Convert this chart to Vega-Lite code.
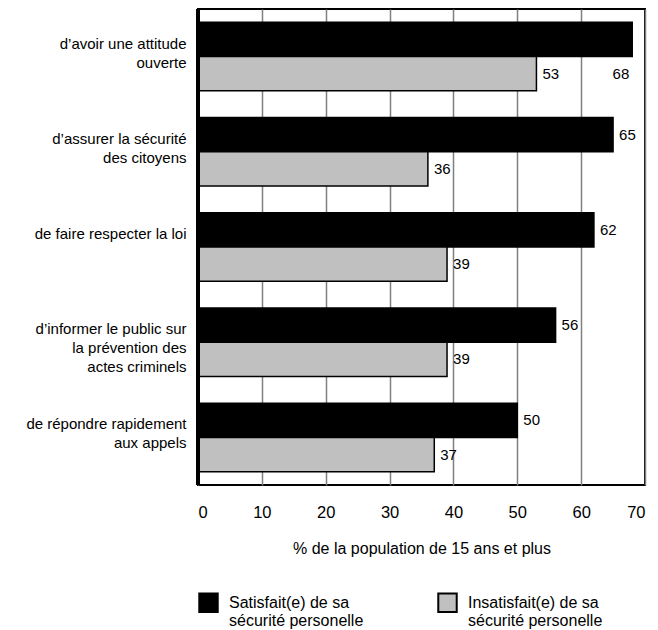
{
  "$schema": "https://vega.github.io/schema/vega-lite/v6.json",
  "width": 447,
  "height": 476,
  "padding": {"left": 5, "top": 7, "right": 5, "bottom": 5},
  "background": "white",
  "config": {
    "font": "Liberation Sans",
    "view": {"stroke": "black", "strokeWidth": 2},
    "axis": {"labelFont": "Liberation Sans", "titleFont": "Liberation Sans", "labelColor": "black", "titleColor": "black"},
    "legend": {"labelFont": "Liberation Sans"}
  },
  "data": {
    "values": [
      {"cat": "d’avoir une attitude|ouverte", "serie": "Satisfait(e) de sa|sécurité personelle", "value": 68},
      {"cat": "d’avoir une attitude|ouverte", "serie": "Insatisfait(e) de sa|sécurité personelle", "value": 53},
      {"cat": "d’assurer la sécurité|des citoyens", "serie": "Satisfait(e) de sa|sécurité personelle", "value": 65},
      {"cat": "d’assurer la sécurité|des citoyens", "serie": "Insatisfait(e) de sa|sécurité personelle", "value": 36},
      {"cat": "de faire respecter la loi", "serie": "Satisfait(e) de sa|sécurité personelle", "value": 62},
      {"cat": "de faire respecter la loi", "serie": "Insatisfait(e) de sa|sécurité personelle", "value": 39},
      {"cat": "d’informer le public sur|la prévention des|actes criminels", "serie": "Satisfait(e) de sa|sécurité personelle", "value": 56},
      {"cat": "d’informer le public sur|la prévention des|actes criminels", "serie": "Insatisfait(e) de sa|sécurité personelle", "value": 39},
      {"cat": "de répondre rapidement|aux appels", "serie": "Satisfait(e) de sa|sécurité personelle", "value": 50},
      {"cat": "de répondre rapidement|aux appels", "serie": "Insatisfait(e) de sa|sécurité personelle", "value": 37}
    ]
  },
  "encoding": {
    "y": {
      "field": "cat", "type": "nominal", "sort": null,
      "scale": {"paddingInner": 0.28, "paddingOuter": 0.14},
      "axis": {
        "title": null, "ticks": false, "domain": false,
        "labelExpr": "split(datum.label, '|')",
        "labelFontSize": 15, "labelPadding": 12, "labelOffset": -13,
        "labelLineHeight": 19, "minExtent": 193, "labelLimit": 200
      }
    },
    "yOffset": {
      "field": "serie", "type": "nominal",
      "sort": ["Satisfait(e) de sa|sécurité personelle", "Insatisfait(e) de sa|sécurité personelle"]
    },
    "x": {
      "field": "value", "type": "quantitative",
      "scale": {"domain": [0, 70], "nice": false},
      "axis": {
        "values": [0, 10, 20, 30, 40, 50, 60, 70],
        "ticks": false, "domain": false,
        "grid": true, "gridColor": "#808080", "gridWidth": 1.5,
        "labelFontSize": 16.5, "labelPadding": 19,
        "title": "% de la population de 15 ans et plus",
        "titleFontSize": 16, "titleFontWeight": "normal", "titlePadding": 20
      }
    }
  },
  "layer": [
    {
      "mark": {"type": "bar", "stroke": "black", "strokeWidth": 1.5},
      "encoding": {
        "fill": {
          "field": "serie", "type": "nominal",
          "sort": ["Satisfait(e) de sa|sécurité personelle", "Insatisfait(e) de sa|sécurité personelle"],
          "scale": {"range": ["#000000", "#c0c0c0"]},
          "legend": {
            "title": null, "orient": "none", "legendX": 0, "legendY": 583,
            "direction": "horizontal", "columns": 2, "columnPadding": 70,
            "symbolType": "square", "symbolSize": 340, "symbolStrokeColor": "black", "symbolStrokeWidth": 2,
            "labelExpr": "split(datum.label, '|')",
            "labelFontSize": 16, "labelLineHeight": 20, "labelOffset": 10, "labelLimit": 200
          }
        }
      }
    },
    {
      "transform": [{"filter": "datum.value < 66"}],
      "mark": {"type": "text", "align": "left", "dx": 6, "fontSize": 15},
      "encoding": {"text": {"field": "value", "type": "quantitative"}}
    },
    {
      "transform": [{"filter": "datum.value >= 66"}],
      "mark": {"type": "text", "align": "right", "dx": -3, "fontSize": 15},
      "encoding": {
        "text": {"field": "value", "type": "quantitative"},
        "yOffset": {"datum": "Insatisfait(e) de sa|sécurité personelle"}
      }
    },
    {
      "mark": {"type": "rule", "stroke": "black", "strokeWidth": 3},
      "encoding": {"x": {"datum": 0}, "y": null, "yOffset": null}
    }
  ]
}
